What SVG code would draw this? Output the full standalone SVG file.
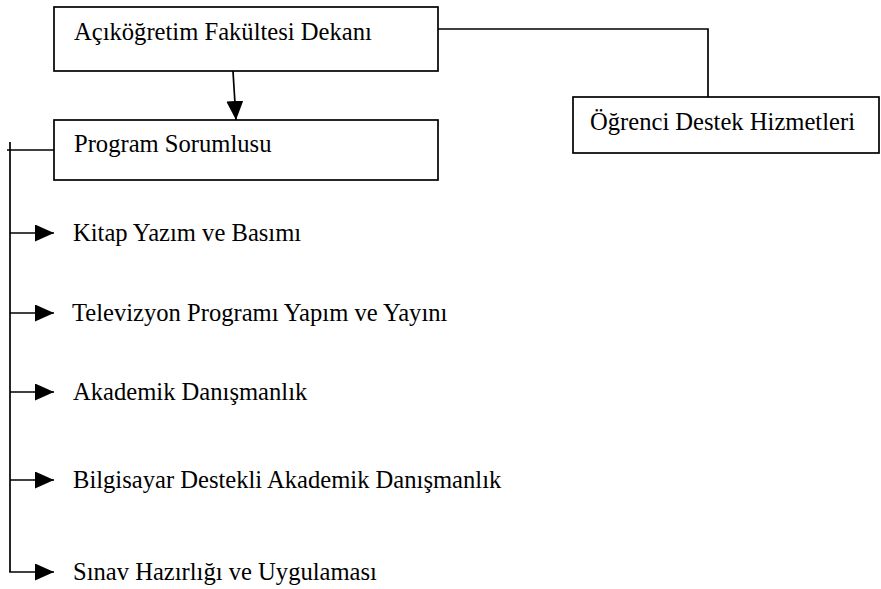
<svg xmlns="http://www.w3.org/2000/svg" width="881" height="589" viewBox="0 0 881 589">
<style>
.box{fill:#fff;stroke:#000;stroke-width:1.7}
.t{font-family:"Liberation Serif","Times New Roman",serif;font-size:24.6px;fill:#000}
.c{fill:none;stroke:#000;stroke-width:1.7}
</style>
<defs>
<marker id="ah" markerUnits="userSpaceOnUse" markerWidth="20" markerHeight="18" refX="19" refY="8.5" orient="auto" viewBox="0 0 20 18">
<path d="M0,0 L19,8.5 L0,17 z" fill="#000"/>
</marker>
</defs>
<g id="connectors">
<polyline class="c" points="438,29 708,29 708,97"/>
<line class="c" x1="233" y1="71" x2="236" y2="120" marker-end="url(#ah)"/>
<line class="c" x1="7" y1="150" x2="54" y2="150"/>
<line class="c" x1="10" y1="142" x2="10" y2="572"/>
<line class="c" x1="10" y1="233" x2="54" y2="233" marker-end="url(#ah)"/>
<line class="c" x1="10" y1="313" x2="54" y2="313" marker-end="url(#ah)"/>
<line class="c" x1="10" y1="392" x2="54" y2="392" marker-end="url(#ah)"/>
<line class="c" x1="10" y1="480" x2="54" y2="480" marker-end="url(#ah)"/>
<line class="c" x1="9.15" y1="572" x2="54" y2="572" marker-end="url(#ah)"/>
</g>
<g id="dekan">
<rect class="box" x="54" y="7" width="384" height="64"/>
<text class="t" x="74" y="39.5">Açıköğretim Fakültesi Dekanı</text>
</g>
<g id="program">
<rect class="box" x="54" y="120" width="384" height="60"/>
<text class="t" x="74" y="152">Program Sorumlusu</text>
</g>
<g id="ogrenci">
<rect class="box" x="573" y="97" width="306" height="56"/>
<text class="t" x="590" y="130">Öğrenci Destek Hizmetleri</text>
</g>
<g id="kitap"><text class="t" x="73" y="241">Kitap Yazım ve Basımı</text></g>
<g id="televizyon"><text class="t" x="72" y="321">Televizyon Programı Yapım ve Yayını</text></g>
<g id="akademik"><text class="t" x="73" y="400">Akademik Danışmanlık</text></g>
<g id="bilgisayar"><text class="t" x="73" y="488">Bilgisayar Destekli Akademik Danışmanlık</text></g>
<g id="sinav"><text class="t" x="73" y="580">Sınav Hazırlığı ve Uygulaması</text></g>
</svg>
